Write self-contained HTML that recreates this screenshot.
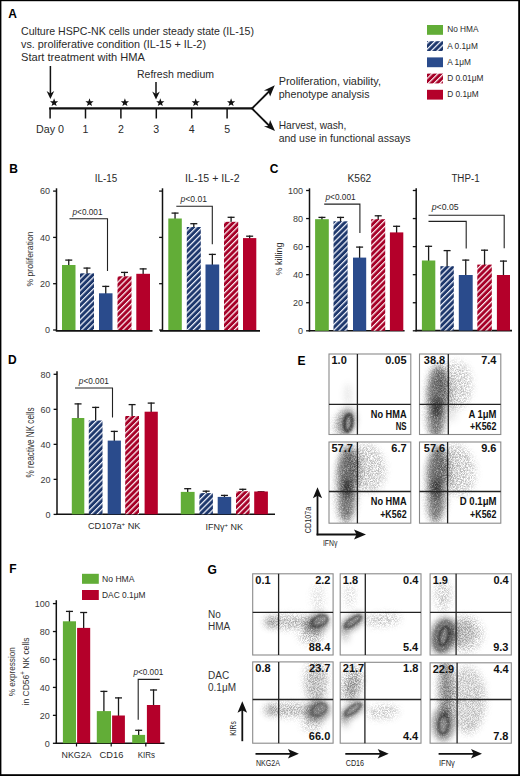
<!DOCTYPE html>
<html><head><meta charset="utf-8"><style>
html,body{margin:0;padding:0;background:#fff;}
svg{display:block;font-family:"Liberation Sans",sans-serif;}
</style></head><body>
<svg width="520" height="776" viewBox="0 0 520 776">
<rect x="0" y="0" width="520" height="776" fill="#fff"/>
<defs>
<pattern id="hb" patternUnits="userSpaceOnUse" width="4.15" height="6" patternTransform="rotate(45)">
<rect width="4.15" height="6" fill="#1d376c"/><rect x="0" y="0" width="1.25" height="6" fill="#eef1fb"/></pattern>
<pattern id="hr" patternUnits="userSpaceOnUse" width="4.15" height="6" patternTransform="rotate(45)">
<rect width="4.15" height="6" fill="#a60027"/><rect x="0" y="0" width="1.25" height="6" fill="#fdeef1"/></pattern>
<marker id="ah" markerWidth="8" markerHeight="8" refX="7" refY="4" orient="auto" markerUnits="userSpaceOnUse"><path d="M0,0 L8,4 L0,8 z" fill="#111"/></marker>
<radialGradient id="ring" cx="0.5" cy="0.5" r="0.5">
<stop offset="0" stop-color="#2a2a2a" stop-opacity="0.3"/>
<stop offset="0.22" stop-color="#2a2a2a" stop-opacity="0.35"/>
<stop offset="0.45" stop-color="#2a2a2a" stop-opacity="1"/>
<stop offset="0.62" stop-color="#2a2a2a" stop-opacity="0.8"/>
<stop offset="0.8" stop-color="#2a2a2a" stop-opacity="0.55"/>
<stop offset="1" stop-color="#2a2a2a" stop-opacity="0.1"/>
</radialGradient>
<filter id="cloud" x="-30%" y="-30%" width="160%" height="160%" color-interpolation-filters="sRGB">
<feGaussianBlur in="SourceGraphic" stdDeviation="3.2" result="b"/>
<feTurbulence type="fractalNoise" baseFrequency="0.85" numOctaves="2" seed="4" result="n"/>
<feColorMatrix in="n" type="matrix" values="0 0 0 0 0  0 0 0 0 0  0 0 0 0 0  1.4 0 0 0 0.3" result="na"/>
<feComposite in="b" in2="na" operator="arithmetic" k1="1.0" k2="0" k3="0" k4="0"/>
</filter>
<filter id="cloud3" x="-30%" y="-30%" width="160%" height="160%" color-interpolation-filters="sRGB">
<feGaussianBlur in="SourceGraphic" stdDeviation="3.5" result="b"/>
<feTurbulence type="fractalNoise" baseFrequency="1.3" numOctaves="2" seed="11" result="n"/>
<feColorMatrix in="n" type="matrix" values="0 0 0 0 0  0 0 0 0 0  0 0 0 0 0  3.2 0 0 0 -1.1" result="na"/>
<feComposite in="b" in2="na" operator="arithmetic" k1="1.6" k2="0" k3="0" k4="0"/>
</filter>
<filter id="cloud2" x="-30%" y="-30%" width="160%" height="160%" color-interpolation-filters="sRGB">
<feGaussianBlur in="SourceGraphic" stdDeviation="1.1" result="b"/>
<feTurbulence type="fractalNoise" baseFrequency="0.85" numOctaves="2" seed="7" result="n"/>
<feColorMatrix in="n" type="matrix" values="0 0 0 0 0  0 0 0 0 0  0 0 0 0 0  1.0 0 0 0 0.5" result="na"/>
<feComposite in="b" in2="na" operator="arithmetic" k1="1.0" k2="0" k3="0" k4="0"/>
</filter>
</defs>
<text x="8.2" y="18" font-size="12" text-anchor="start" font-weight="bold" fill="#000">A</text>
<text x="21" y="34.5" font-size="10.6" text-anchor="start" font-weight="normal" fill="#2a2a2a" textLength="233" lengthAdjust="spacingAndGlyphs">Culture HSPC-NK cells under steady state (IL-15)</text>
<text x="21" y="47.5" font-size="10.6" text-anchor="start" font-weight="normal" fill="#2a2a2a" textLength="185" lengthAdjust="spacingAndGlyphs">vs. proliferative condition (IL-15 + IL-2)</text>
<text x="21" y="60.5" font-size="10.6" text-anchor="start" font-weight="normal" fill="#2a2a2a" textLength="124" lengthAdjust="spacingAndGlyphs">Start treatment with HMA</text>
<text x="137" y="78" font-size="10.6" text-anchor="start" font-weight="normal" fill="#2a2a2a" textLength="77" lengthAdjust="spacingAndGlyphs">Refresh medium</text>
<line x1="49.2" y1="108.4" x2="253" y2="108.4" stroke="#111" stroke-width="2.4"/>
<line x1="50.1" y1="108" x2="50.1" y2="118.5" stroke="#111" stroke-width="1.5"/>
<text x="36" y="132.5" font-size="10.6" text-anchor="start" font-weight="normal" fill="#2a2a2a" textLength="28" lengthAdjust="spacingAndGlyphs">Day 0</text>
<polygon points="54.10,98.30 55.16,101.14 58.19,101.27 55.82,103.16 56.63,106.08 54.10,104.41 51.57,106.08 52.38,103.16 50.01,101.27 53.04,101.14" fill="#111"/>
<line x1="85.5" y1="108" x2="85.5" y2="118.5" stroke="#111" stroke-width="1.5"/>
<text x="85.5" y="132.5" font-size="10.6" text-anchor="middle" font-weight="normal" fill="#2a2a2a">1</text>
<polygon points="89.50,98.30 90.56,101.14 93.59,101.27 91.22,103.16 92.03,106.08 89.50,104.41 86.97,106.08 87.78,103.16 85.41,101.27 88.44,101.14" fill="#111"/>
<line x1="120.9" y1="108" x2="120.9" y2="118.5" stroke="#111" stroke-width="1.5"/>
<text x="120.9" y="132.5" font-size="10.6" text-anchor="middle" font-weight="normal" fill="#2a2a2a">2</text>
<polygon points="124.90,98.30 125.96,101.14 128.99,101.27 126.62,103.16 127.43,106.08 124.90,104.41 122.37,106.08 123.18,103.16 120.81,101.27 123.84,101.14" fill="#111"/>
<line x1="156.29999999999998" y1="108" x2="156.29999999999998" y2="118.5" stroke="#111" stroke-width="1.5"/>
<text x="156.29999999999998" y="132.5" font-size="10.6" text-anchor="middle" font-weight="normal" fill="#2a2a2a">3</text>
<polygon points="160.30,98.30 161.36,101.14 164.39,101.27 162.02,103.16 162.83,106.08 160.30,104.41 157.77,106.08 158.58,103.16 156.21,101.27 159.24,101.14" fill="#111"/>
<line x1="191.70000000000002" y1="108" x2="191.70000000000002" y2="118.5" stroke="#111" stroke-width="1.5"/>
<text x="191.70000000000002" y="132.5" font-size="10.6" text-anchor="middle" font-weight="normal" fill="#2a2a2a">4</text>
<polygon points="195.70,98.30 196.76,101.14 199.79,101.27 197.42,103.16 198.23,106.08 195.70,104.41 193.17,106.08 193.98,103.16 191.61,101.27 194.64,101.14" fill="#111"/>
<line x1="227.1" y1="108" x2="227.1" y2="118.5" stroke="#111" stroke-width="1.5"/>
<text x="227.1" y="132.5" font-size="10.6" text-anchor="middle" font-weight="normal" fill="#2a2a2a">5</text>
<polygon points="231.10,98.30 232.16,101.14 235.19,101.27 232.82,103.16 233.63,106.08 231.10,104.41 228.57,106.08 229.38,103.16 227.01,101.27 230.04,101.14" fill="#111"/>
<line x1="50.4" y1="66" x2="50.4" y2="95" stroke="#111" stroke-width="1.5"/>
<path d="M46.6,91 L50.4,99 L54.199999999999996,91 L50.4,93.5 z" fill="#111"/>
<line x1="156" y1="82" x2="156" y2="95.5" stroke="#111" stroke-width="1.5"/>
<path d="M152.2,91.5 L156,99.5 L159.8,91.5 L156,94.0 z" fill="#111"/>
<path d="M252,108.5 L270,90.5" stroke="#111" stroke-width="1.9" fill="none"/>
<path d="M252,108.5 L270,126.5" stroke="#111" stroke-width="1.9" fill="none"/>
<path d="M274.8,85.3 L263.9,90.4 L268.2,90.8 L270.1,96.6 z" fill="#111"/>
<path d="M275,131 L263.9,126.3 L268.5,125.9 L270.1,120.1 z" fill="#111"/>
<text x="278.7" y="85" font-size="10.6" text-anchor="start" font-weight="normal" fill="#2a2a2a" textLength="102.3" lengthAdjust="spacingAndGlyphs">Proliferation, viability,</text>
<text x="278.7" y="98" font-size="10.6" text-anchor="start" font-weight="normal" fill="#2a2a2a" textLength="90.8" lengthAdjust="spacingAndGlyphs">phenotype analysis</text>
<text x="278.7" y="129.1" font-size="10.6" text-anchor="start" font-weight="normal" fill="#2a2a2a" textLength="67.7" lengthAdjust="spacingAndGlyphs">Harvest, wash,</text>
<text x="278.7" y="142.1" font-size="10.6" text-anchor="start" font-weight="normal" fill="#2a2a2a" textLength="131.8" lengthAdjust="spacingAndGlyphs">and use in functional assays</text>
<rect x="427" y="25.0" width="16" height="9.8" fill="#62ad37"/>
<text x="447.2" y="32.3" font-size="8.3" text-anchor="start" font-weight="normal" fill="#2a2a2a">No HMA</text>
<rect x="427" y="41.2" width="16" height="9.8" fill="url(#hb)"/>
<text x="447.2" y="48.5" font-size="8.3" text-anchor="start" font-weight="normal" fill="#2a2a2a">A 0.1μM</text>
<rect x="427" y="57.4" width="16" height="9.8" fill="#2a4b8c"/>
<text x="447.2" y="64.7" font-size="8.3" text-anchor="start" font-weight="normal" fill="#2a2a2a">A 1μM</text>
<rect x="427" y="73.6" width="16" height="9.8" fill="url(#hr)"/>
<text x="447.2" y="80.89999999999999" font-size="8.3" text-anchor="start" font-weight="normal" fill="#2a2a2a">D 0.01μM</text>
<rect x="427" y="89.8" width="16" height="9.8" fill="#b4002a"/>
<text x="447.2" y="97.1" font-size="8.3" text-anchor="start" font-weight="normal" fill="#2a2a2a">D 0.1μM</text>
<text x="9.3" y="172.5" font-size="12" text-anchor="start" font-weight="bold" fill="#000">B</text>
<text x="106" y="182" font-size="10" text-anchor="middle" font-weight="normal" fill="#2a2a2a" textLength="22.5" lengthAdjust="spacingAndGlyphs">IL-15</text>
<text x="212.3" y="182" font-size="10" text-anchor="middle" font-weight="normal" fill="#2a2a2a" textLength="54.5" lengthAdjust="spacingAndGlyphs">IL-15 + IL-2</text>
<line x1="56.5" y1="188.3" x2="56.5" y2="331" stroke="#111" stroke-width="1.5"/>
<line x1="53.1" y1="330.0" x2="56.5" y2="330.0" stroke="#111" stroke-width="1.3"/>
<text x="50.0" y="333.3" font-size="9" text-anchor="end" font-weight="normal" fill="#3a3a3a">0</text>
<line x1="53.1" y1="283.7" x2="56.5" y2="283.7" stroke="#111" stroke-width="1.3"/>
<text x="50.0" y="287.0" font-size="9" text-anchor="end" font-weight="normal" fill="#3a3a3a">20</text>
<line x1="53.1" y1="237.4" x2="56.5" y2="237.4" stroke="#111" stroke-width="1.3"/>
<text x="50.0" y="240.70000000000002" font-size="9" text-anchor="end" font-weight="normal" fill="#3a3a3a">40</text>
<line x1="53.1" y1="191.1" x2="56.5" y2="191.1" stroke="#111" stroke-width="1.3"/>
<text x="50.0" y="194.4" font-size="9" text-anchor="end" font-weight="normal" fill="#3a3a3a">60</text>
<line x1="55.8" y1="330.8" x2="152.5" y2="330.8" stroke="#111" stroke-width="1.8"/>
<line x1="68.75" y1="259.5" x2="68.75" y2="266" stroke="#1a1a1a" stroke-width="1.3"/>
<line x1="65.25" y1="260.1" x2="72.25" y2="260.1" stroke="#1a1a1a" stroke-width="1.3"/>
<rect x="62" y="265" width="13.5" height="65" fill="#62ad37"/>
<line x1="87.0" y1="267.5" x2="87.0" y2="274.3" stroke="#1a1a1a" stroke-width="1.3"/>
<line x1="83.5" y1="268.1" x2="90.5" y2="268.1" stroke="#1a1a1a" stroke-width="1.3"/>
<rect x="80" y="273.3" width="14" height="56.69999999999999" fill="url(#hb)"/>
<line x1="105.75" y1="285.8" x2="105.75" y2="294.3" stroke="#1a1a1a" stroke-width="1.3"/>
<line x1="102.25" y1="286.40000000000003" x2="109.25" y2="286.40000000000003" stroke="#1a1a1a" stroke-width="1.3"/>
<rect x="99" y="293.3" width="13.5" height="36.69999999999999" fill="#2a4b8c"/>
<line x1="124.5" y1="271.8" x2="124.5" y2="277.3" stroke="#1a1a1a" stroke-width="1.3"/>
<line x1="121.0" y1="272.40000000000003" x2="128.0" y2="272.40000000000003" stroke="#1a1a1a" stroke-width="1.3"/>
<rect x="117.5" y="276.3" width="14.0" height="53.69999999999999" fill="url(#hr)"/>
<line x1="143.15" y1="268.3" x2="143.15" y2="274.8" stroke="#1a1a1a" stroke-width="1.3"/>
<line x1="139.65" y1="268.90000000000003" x2="146.65" y2="268.90000000000003" stroke="#1a1a1a" stroke-width="1.3"/>
<rect x="136.3" y="273.8" width="13.699999999999989" height="56.19999999999999" fill="#b4002a"/>
<path d="M69.5,218.8 H107.5 V271" stroke="#222" stroke-width="1.1" fill="none"/>
<text x="72.5" y="214.5" font-size="8.6" text-anchor="start" font-weight="normal" fill="#2a2a2a" textLength="30" lengthAdjust="spacingAndGlyphs"><tspan font-style="italic">p</tspan>&lt;0.001</text>
<line x1="162.5" y1="188.3" x2="162.5" y2="331" stroke="#111" stroke-width="1.5"/>
<line x1="159.1" y1="330.0" x2="162.5" y2="330.0" stroke="#111" stroke-width="1.3"/>
<line x1="159.1" y1="283.7" x2="162.5" y2="283.7" stroke="#111" stroke-width="1.3"/>
<line x1="159.1" y1="237.4" x2="162.5" y2="237.4" stroke="#111" stroke-width="1.3"/>
<line x1="159.1" y1="191.1" x2="162.5" y2="191.1" stroke="#111" stroke-width="1.3"/>
<line x1="160" y1="330.8" x2="260" y2="330.8" stroke="#111" stroke-width="1.8"/>
<line x1="175.05" y1="212.5" x2="175.05" y2="219.5" stroke="#1a1a1a" stroke-width="1.3"/>
<line x1="171.55" y1="213.1" x2="178.55" y2="213.1" stroke="#1a1a1a" stroke-width="1.3"/>
<rect x="168.3" y="218.5" width="13.5" height="111.5" fill="#62ad37"/>
<line x1="193.8" y1="223.1" x2="193.8" y2="228" stroke="#1a1a1a" stroke-width="1.3"/>
<line x1="190.3" y1="223.7" x2="197.3" y2="223.7" stroke="#1a1a1a" stroke-width="1.3"/>
<rect x="186.8" y="227" width="14.0" height="103" fill="url(#hb)"/>
<line x1="212.35" y1="253.8" x2="212.35" y2="265.5" stroke="#1a1a1a" stroke-width="1.3"/>
<line x1="208.85" y1="254.4" x2="215.85" y2="254.4" stroke="#1a1a1a" stroke-width="1.3"/>
<rect x="205.5" y="264.5" width="13.699999999999989" height="65.5" fill="#2a4b8c"/>
<line x1="231.1" y1="216.7" x2="231.1" y2="222.8" stroke="#1a1a1a" stroke-width="1.3"/>
<line x1="227.6" y1="217.29999999999998" x2="234.6" y2="217.29999999999998" stroke="#1a1a1a" stroke-width="1.3"/>
<rect x="224" y="221.8" width="14.199999999999989" height="108.19999999999999" fill="url(#hr)"/>
<line x1="249.65" y1="235.6" x2="249.65" y2="239.1" stroke="#1a1a1a" stroke-width="1.3"/>
<line x1="246.15" y1="236.2" x2="253.15" y2="236.2" stroke="#1a1a1a" stroke-width="1.3"/>
<rect x="243" y="238.1" width="13.300000000000011" height="91.9" fill="#b4002a"/>
<path d="M176.3,206.2 H212.3 V244.2" stroke="#222" stroke-width="1.1" fill="none"/>
<text x="180.5" y="202" font-size="8.6" text-anchor="start" font-weight="normal" fill="#2a2a2a" textLength="26.5" lengthAdjust="spacingAndGlyphs"><tspan font-style="italic">p</tspan>&lt;0.01</text>
<text transform="translate(33.4,259) rotate(-90)" font-size="9.8" text-anchor="middle" fill="#333" textLength="55" lengthAdjust="spacingAndGlyphs">% proliferation</text>
<text x="269.8" y="172.8" font-size="12" text-anchor="start" font-weight="bold" fill="#000">C</text>
<text x="359.4" y="182" font-size="10" text-anchor="middle" font-weight="normal" fill="#2a2a2a" textLength="23.75" lengthAdjust="spacingAndGlyphs">K562</text>
<text x="465.5" y="181.5" font-size="10" text-anchor="middle" font-weight="normal" fill="#2a2a2a" textLength="28.2" lengthAdjust="spacingAndGlyphs">THP-1</text>
<line x1="309.5" y1="188.3" x2="309.5" y2="331.5" stroke="#111" stroke-width="1.5"/>
<line x1="306.1" y1="330.8" x2="309.5" y2="330.8" stroke="#111" stroke-width="1.3"/>
<text x="303.0" y="334.1" font-size="9" text-anchor="end" font-weight="normal" fill="#3a3a3a">0</text>
<line x1="306.1" y1="302.74" x2="309.5" y2="302.74" stroke="#111" stroke-width="1.3"/>
<text x="303.0" y="306.04" font-size="9" text-anchor="end" font-weight="normal" fill="#3a3a3a">20</text>
<line x1="306.1" y1="274.68" x2="309.5" y2="274.68" stroke="#111" stroke-width="1.3"/>
<text x="303.0" y="277.98" font-size="9" text-anchor="end" font-weight="normal" fill="#3a3a3a">40</text>
<line x1="306.1" y1="246.62" x2="309.5" y2="246.62" stroke="#111" stroke-width="1.3"/>
<text x="303.0" y="249.92000000000002" font-size="9" text-anchor="end" font-weight="normal" fill="#3a3a3a">60</text>
<line x1="306.1" y1="218.56" x2="309.5" y2="218.56" stroke="#111" stroke-width="1.3"/>
<text x="303.0" y="221.86" font-size="9" text-anchor="end" font-weight="normal" fill="#3a3a3a">80</text>
<line x1="306.1" y1="190.5" x2="309.5" y2="190.5" stroke="#111" stroke-width="1.3"/>
<text x="303.0" y="193.8" font-size="9" text-anchor="end" font-weight="normal" fill="#3a3a3a">100</text>
<line x1="308.8" y1="330.8" x2="404.6" y2="330.8" stroke="#111" stroke-width="1.6"/>
<line x1="321.95000000000005" y1="216.8" x2="321.95000000000005" y2="220.2" stroke="#1a1a1a" stroke-width="1.3"/>
<line x1="318.45000000000005" y1="217.4" x2="325.45000000000005" y2="217.4" stroke="#1a1a1a" stroke-width="1.3"/>
<rect x="315.1" y="219.2" width="13.699999999999989" height="111.60000000000002" fill="#62ad37"/>
<line x1="340.55" y1="216.8" x2="340.55" y2="222.3" stroke="#1a1a1a" stroke-width="1.3"/>
<line x1="337.05" y1="217.4" x2="344.05" y2="217.4" stroke="#1a1a1a" stroke-width="1.3"/>
<rect x="333.5" y="221.3" width="14.100000000000023" height="109.5" fill="url(#hb)"/>
<line x1="359.6" y1="246.5" x2="359.6" y2="258.6" stroke="#1a1a1a" stroke-width="1.3"/>
<line x1="356.1" y1="247.1" x2="363.1" y2="247.1" stroke="#1a1a1a" stroke-width="1.3"/>
<rect x="353" y="257.6" width="13.199999999999989" height="73.19999999999999" fill="#2a4b8c"/>
<line x1="378.2" y1="215.2" x2="378.2" y2="220.2" stroke="#1a1a1a" stroke-width="1.3"/>
<line x1="374.7" y1="215.79999999999998" x2="381.7" y2="215.79999999999998" stroke="#1a1a1a" stroke-width="1.3"/>
<rect x="371.2" y="219.2" width="14.0" height="111.60000000000002" fill="url(#hr)"/>
<line x1="396.6" y1="225.7" x2="396.6" y2="233.4" stroke="#1a1a1a" stroke-width="1.3"/>
<line x1="393.1" y1="226.29999999999998" x2="400.1" y2="226.29999999999998" stroke="#1a1a1a" stroke-width="1.3"/>
<rect x="389.9" y="232.4" width="13.400000000000034" height="98.4" fill="#b4002a"/>
<path d="M324.2,204.1 H359.9 V233" stroke="#222" stroke-width="1.1" fill="none"/>
<text x="325.5" y="200" font-size="8.6" text-anchor="start" font-weight="normal" fill="#2a2a2a" textLength="30.2" lengthAdjust="spacingAndGlyphs"><tspan font-style="italic">p</tspan>&lt;0.001</text>
<line x1="416.2" y1="188.3" x2="416.2" y2="331.3" stroke="#111" stroke-width="1.5"/>
<line x1="412.8" y1="330.8" x2="416.2" y2="330.8" stroke="#111" stroke-width="1.3"/>
<line x1="412.8" y1="302.74" x2="416.2" y2="302.74" stroke="#111" stroke-width="1.3"/>
<line x1="412.8" y1="274.68" x2="416.2" y2="274.68" stroke="#111" stroke-width="1.3"/>
<line x1="412.8" y1="246.62" x2="416.2" y2="246.62" stroke="#111" stroke-width="1.3"/>
<line x1="412.8" y1="218.56" x2="416.2" y2="218.56" stroke="#111" stroke-width="1.3"/>
<line x1="412.8" y1="190.5" x2="416.2" y2="190.5" stroke="#111" stroke-width="1.3"/>
<line x1="415.5" y1="330.6" x2="512" y2="330.6" stroke="#111" stroke-width="1.6"/>
<line x1="428.6" y1="245.7" x2="428.6" y2="261.5" stroke="#1a1a1a" stroke-width="1.3"/>
<line x1="425.1" y1="246.29999999999998" x2="432.1" y2="246.29999999999998" stroke="#1a1a1a" stroke-width="1.3"/>
<rect x="421.9" y="260.5" width="13.400000000000034" height="70.10000000000002" fill="#62ad37"/>
<line x1="447.1" y1="250" x2="447.1" y2="267.2" stroke="#1a1a1a" stroke-width="1.3"/>
<line x1="443.6" y1="250.6" x2="450.6" y2="250.6" stroke="#1a1a1a" stroke-width="1.3"/>
<rect x="440.4" y="266.2" width="13.400000000000034" height="64.40000000000003" fill="url(#hb)"/>
<line x1="465.75" y1="259.5" x2="465.75" y2="276" stroke="#1a1a1a" stroke-width="1.3"/>
<line x1="462.25" y1="260.1" x2="469.25" y2="260.1" stroke="#1a1a1a" stroke-width="1.3"/>
<rect x="458.8" y="275" width="13.899999999999977" height="55.60000000000002" fill="#2a4b8c"/>
<line x1="484.55" y1="249.6" x2="484.55" y2="265.6" stroke="#1a1a1a" stroke-width="1.3"/>
<line x1="481.05" y1="250.2" x2="488.05" y2="250.2" stroke="#1a1a1a" stroke-width="1.3"/>
<rect x="477.3" y="264.6" width="14.5" height="66.0" fill="url(#hr)"/>
<line x1="503.45" y1="260.5" x2="503.45" y2="276" stroke="#1a1a1a" stroke-width="1.3"/>
<line x1="499.95" y1="261.1" x2="506.95" y2="261.1" stroke="#1a1a1a" stroke-width="1.3"/>
<rect x="496.9" y="275" width="13.100000000000023" height="55.60000000000002" fill="#b4002a"/>
<path d="M428.5,215.2 H504.2 V248.3" stroke="#222" stroke-width="1.1" fill="none"/>
<path d="M428.5,221.4 H466.2 V248.5" stroke="#222" stroke-width="1.1" fill="none"/>
<text x="431.7" y="209.8" font-size="8.6" text-anchor="start" font-weight="normal" fill="#2a2a2a" textLength="26.9" lengthAdjust="spacingAndGlyphs"><tspan font-style="italic">p</tspan>&lt;0.05</text>
<text transform="translate(281.7,259) rotate(-90)" font-size="9.8" text-anchor="middle" fill="#333" textLength="33" lengthAdjust="spacingAndGlyphs">% killing</text>
<text x="8.1" y="364" font-size="12" text-anchor="start" font-weight="bold" fill="#000">D</text>
<line x1="57" y1="371.2" x2="57" y2="515" stroke="#111" stroke-width="1.5"/>
<line x1="53.6" y1="514.4" x2="57" y2="514.4" stroke="#111" stroke-width="1.3"/>
<text x="50.5" y="517.6999999999999" font-size="9" text-anchor="end" font-weight="normal" fill="#3a3a3a">0</text>
<line x1="53.6" y1="479.375" x2="57" y2="479.375" stroke="#111" stroke-width="1.3"/>
<text x="50.5" y="482.675" font-size="9" text-anchor="end" font-weight="normal" fill="#3a3a3a">20</text>
<line x1="53.6" y1="444.35" x2="57" y2="444.35" stroke="#111" stroke-width="1.3"/>
<text x="50.5" y="447.65000000000003" font-size="9" text-anchor="end" font-weight="normal" fill="#3a3a3a">40</text>
<line x1="53.6" y1="409.325" x2="57" y2="409.325" stroke="#111" stroke-width="1.3"/>
<text x="50.5" y="412.625" font-size="9" text-anchor="end" font-weight="normal" fill="#3a3a3a">60</text>
<line x1="53.6" y1="374.3" x2="57" y2="374.3" stroke="#111" stroke-width="1.3"/>
<text x="50.5" y="377.6" font-size="9" text-anchor="end" font-weight="normal" fill="#3a3a3a">80</text>
<line x1="56.3" y1="514.3" x2="275" y2="514.3" stroke="#111" stroke-width="1.6"/>
<line x1="78.05" y1="403.3" x2="78.05" y2="419" stroke="#1a1a1a" stroke-width="1.3"/>
<line x1="74.55" y1="403.90000000000003" x2="81.55" y2="403.90000000000003" stroke="#1a1a1a" stroke-width="1.3"/>
<rect x="71.8" y="418" width="12.5" height="96.29999999999995" fill="#62ad37"/>
<line x1="95.65" y1="406.8" x2="95.65" y2="421.5" stroke="#1a1a1a" stroke-width="1.3"/>
<line x1="92.15" y1="407.40000000000003" x2="99.15" y2="407.40000000000003" stroke="#1a1a1a" stroke-width="1.3"/>
<rect x="88.8" y="420.5" width="13.700000000000003" height="93.79999999999995" fill="url(#hb)"/>
<line x1="114.30000000000001" y1="430.8" x2="114.30000000000001" y2="441.6" stroke="#1a1a1a" stroke-width="1.3"/>
<line x1="110.80000000000001" y1="431.40000000000003" x2="117.80000000000001" y2="431.40000000000003" stroke="#1a1a1a" stroke-width="1.3"/>
<rect x="107.7" y="440.6" width="13.200000000000003" height="73.69999999999993" fill="#2a4b8c"/>
<line x1="132.1" y1="404" x2="132.1" y2="417" stroke="#1a1a1a" stroke-width="1.3"/>
<line x1="128.6" y1="404.6" x2="135.6" y2="404.6" stroke="#1a1a1a" stroke-width="1.3"/>
<rect x="125.2" y="416" width="13.799999999999997" height="98.29999999999995" fill="url(#hr)"/>
<line x1="151.2" y1="402.5" x2="151.2" y2="412.7" stroke="#1a1a1a" stroke-width="1.3"/>
<line x1="147.7" y1="403.1" x2="154.7" y2="403.1" stroke="#1a1a1a" stroke-width="1.3"/>
<rect x="144.6" y="411.7" width="13.200000000000017" height="102.59999999999997" fill="#b4002a"/>
<line x1="187.7" y1="488.1" x2="187.7" y2="492.9" stroke="#1a1a1a" stroke-width="1.3"/>
<line x1="184.2" y1="488.70000000000005" x2="191.2" y2="488.70000000000005" stroke="#1a1a1a" stroke-width="1.3"/>
<rect x="180.8" y="491.9" width="13.799999999999983" height="22.399999999999977" fill="#62ad37"/>
<line x1="206.15" y1="490.6" x2="206.15" y2="494.1" stroke="#1a1a1a" stroke-width="1.3"/>
<line x1="202.65" y1="491.20000000000005" x2="209.65" y2="491.20000000000005" stroke="#1a1a1a" stroke-width="1.3"/>
<rect x="199.4" y="493.1" width="13.5" height="21.199999999999932" fill="url(#hb)"/>
<line x1="224.45" y1="494.8" x2="224.45" y2="497.9" stroke="#1a1a1a" stroke-width="1.3"/>
<line x1="220.95" y1="495.40000000000003" x2="227.95" y2="495.40000000000003" stroke="#1a1a1a" stroke-width="1.3"/>
<rect x="217.7" y="496.9" width="13.5" height="17.399999999999977" fill="#2a4b8c"/>
<line x1="242.8" y1="488.7" x2="242.8" y2="492.2" stroke="#1a1a1a" stroke-width="1.3"/>
<line x1="239.3" y1="489.3" x2="246.3" y2="489.3" stroke="#1a1a1a" stroke-width="1.3"/>
<rect x="236" y="491.2" width="13.599999999999994" height="23.099999999999966" fill="url(#hr)"/>
<line x1="261.04999999999995" y1="491.2" x2="261.04999999999995" y2="492.5" stroke="#1a1a1a" stroke-width="1.3"/>
<line x1="257.54999999999995" y1="491.8" x2="264.54999999999995" y2="491.8" stroke="#1a1a1a" stroke-width="1.3"/>
<rect x="254.2" y="491.5" width="13.699999999999989" height="22.799999999999955" fill="#b4002a"/>
<path d="M75,388 H112.5 V417.5" stroke="#222" stroke-width="1.1" fill="none"/>
<text x="78.8" y="383.8" font-size="8.6" text-anchor="start" font-weight="normal" fill="#2a2a2a" textLength="30" lengthAdjust="spacingAndGlyphs"><tspan font-style="italic">p</tspan>&lt;0.001</text>
<text x="88" y="529.3" font-size="9" text-anchor="start" font-weight="normal" fill="#2a2a2a" textLength="52.5" lengthAdjust="spacingAndGlyphs">CD107a<tspan font-size="6" dy="-3.5">+</tspan><tspan dy="3.5"> NK</tspan></text>
<text x="205.5" y="530" font-size="9" text-anchor="start" font-weight="normal" fill="#2a2a2a" textLength="37.5" lengthAdjust="spacingAndGlyphs">IFNγ<tspan font-size="6" dy="-3.5">+</tspan><tspan dy="3.5"> NK</tspan></text>
<text transform="translate(33.6,442.4) rotate(-90)" font-size="10" text-anchor="middle" fill="#333" textLength="70" lengthAdjust="spacingAndGlyphs">% reactive NK cells</text>
<text x="9.3" y="573" font-size="12" text-anchor="start" font-weight="bold" fill="#000">F</text>
<rect x="82" y="573.8" width="16.8" height="10" fill="#62ad37"/>
<rect x="82" y="590" width="16.8" height="10" fill="#b4002a"/>
<text x="102" y="581.5" font-size="8.6" text-anchor="start" font-weight="normal" fill="#2a2a2a" textLength="32.5" lengthAdjust="spacingAndGlyphs">No HMA</text>
<text x="102" y="597.8" font-size="8.8" text-anchor="start" font-weight="normal" fill="#2a2a2a" textLength="43.5" lengthAdjust="spacingAndGlyphs">DAC 0.1μM</text>
<line x1="56.3" y1="600.2" x2="56.3" y2="744" stroke="#111" stroke-width="1.5"/>
<line x1="52.9" y1="743.3" x2="56.3" y2="743.3" stroke="#111" stroke-width="1.3"/>
<text x="49.8" y="746.5999999999999" font-size="9" text-anchor="end" font-weight="normal" fill="#3a3a3a">0</text>
<line x1="52.9" y1="715.36" x2="56.3" y2="715.36" stroke="#111" stroke-width="1.3"/>
<text x="49.8" y="718.66" font-size="9" text-anchor="end" font-weight="normal" fill="#3a3a3a">20</text>
<line x1="52.9" y1="687.42" x2="56.3" y2="687.42" stroke="#111" stroke-width="1.3"/>
<text x="49.8" y="690.7199999999999" font-size="9" text-anchor="end" font-weight="normal" fill="#3a3a3a">40</text>
<line x1="52.9" y1="659.48" x2="56.3" y2="659.48" stroke="#111" stroke-width="1.3"/>
<text x="49.8" y="662.78" font-size="9" text-anchor="end" font-weight="normal" fill="#3a3a3a">60</text>
<line x1="52.9" y1="631.54" x2="56.3" y2="631.54" stroke="#111" stroke-width="1.3"/>
<text x="49.8" y="634.8399999999999" font-size="9" text-anchor="end" font-weight="normal" fill="#3a3a3a">80</text>
<line x1="52.9" y1="603.6" x2="56.3" y2="603.6" stroke="#111" stroke-width="1.3"/>
<text x="49.8" y="606.9" font-size="9" text-anchor="end" font-weight="normal" fill="#3a3a3a">100</text>
<line x1="55.6" y1="743.2" x2="164.5" y2="743.2" stroke="#111" stroke-width="1.6"/>
<line x1="76.5" y1="743" x2="76.5" y2="746.5" stroke="#111" stroke-width="1.2"/>
<line x1="111.2" y1="743" x2="111.2" y2="746.5" stroke="#111" stroke-width="1.2"/>
<line x1="145.8" y1="743" x2="145.8" y2="746.5" stroke="#111" stroke-width="1.2"/>
<line x1="69.45" y1="610.8" x2="69.45" y2="622.3" stroke="#1a1a1a" stroke-width="1.3"/>
<line x1="65.95" y1="611.4" x2="72.95" y2="611.4" stroke="#1a1a1a" stroke-width="1.3"/>
<rect x="62.9" y="621.3" width="13.100000000000001" height="121.90000000000009" fill="#62ad37"/>
<line x1="83.65" y1="611.9" x2="83.65" y2="628.9" stroke="#1a1a1a" stroke-width="1.3"/>
<line x1="80.15" y1="612.5" x2="87.15" y2="612.5" stroke="#1a1a1a" stroke-width="1.3"/>
<rect x="77.1" y="627.9" width="13.100000000000009" height="115.30000000000007" fill="#b4002a"/>
<line x1="103.9" y1="690.8" x2="103.9" y2="712.1" stroke="#1a1a1a" stroke-width="1.3"/>
<line x1="100.4" y1="691.4" x2="107.4" y2="691.4" stroke="#1a1a1a" stroke-width="1.3"/>
<rect x="96.8" y="711.1" width="14.200000000000003" height="32.10000000000002" fill="#62ad37"/>
<line x1="118.5" y1="697.3" x2="118.5" y2="716.5" stroke="#1a1a1a" stroke-width="1.3"/>
<line x1="115.0" y1="697.9" x2="122.0" y2="697.9" stroke="#1a1a1a" stroke-width="1.3"/>
<rect x="112.1" y="715.5" width="12.800000000000011" height="27.700000000000045" fill="#b4002a"/>
<line x1="138.64999999999998" y1="729.7" x2="138.64999999999998" y2="735.9" stroke="#1a1a1a" stroke-width="1.3"/>
<line x1="135.14999999999998" y1="730.3000000000001" x2="142.14999999999998" y2="730.3000000000001" stroke="#1a1a1a" stroke-width="1.3"/>
<rect x="132.2" y="734.9" width="12.900000000000006" height="8.300000000000068" fill="#62ad37"/>
<line x1="153.55" y1="689.4" x2="153.55" y2="706" stroke="#1a1a1a" stroke-width="1.3"/>
<line x1="150.05" y1="690.0" x2="157.05" y2="690.0" stroke="#1a1a1a" stroke-width="1.3"/>
<rect x="146.9" y="705" width="13.299999999999983" height="38.200000000000045" fill="#b4002a"/>
<path d="M138.2,719.7 V679.4 H159.7" stroke="#222" stroke-width="1.1" fill="none"/>
<text x="133.4" y="674.7" font-size="8.6" text-anchor="start" font-weight="normal" fill="#2a2a2a" textLength="29.9" lengthAdjust="spacingAndGlyphs"><tspan font-style="italic">p</tspan>&lt;0.001</text>
<text x="61.5" y="758.1" font-size="9" text-anchor="start" font-weight="normal" fill="#2a2a2a" textLength="30" lengthAdjust="spacingAndGlyphs">NKG2A</text>
<text x="99.6" y="758.1" font-size="9" text-anchor="start" font-weight="normal" fill="#2a2a2a" textLength="23.8" lengthAdjust="spacingAndGlyphs">CD16</text>
<text x="137.7" y="758.1" font-size="9" text-anchor="start" font-weight="normal" fill="#2a2a2a" textLength="17.3" lengthAdjust="spacingAndGlyphs">KIRs</text>
<text transform="translate(14.9,671.7) rotate(-90)" font-size="9.6" text-anchor="middle" fill="#333" textLength="49" lengthAdjust="spacingAndGlyphs">% expression</text>
<text transform="translate(28.6,671.5) rotate(-90)" font-size="9.6" text-anchor="middle" fill="#333" textLength="68" lengthAdjust="spacingAndGlyphs">in CD56<tspan font-size="7" dy="-3.5">+</tspan><tspan dy="3.5"> NK cells</tspan></text>
<text x="297.6" y="364.5" font-size="12" text-anchor="start" font-weight="bold" fill="#000">E</text>
<clipPath id="cp1"><rect x="329" y="354" width="81.80000000000001" height="80.5"/></clipPath>
<g clip-path="url(#cp1)">
<g filter="url(#cloud)">
<ellipse cx="346.5" cy="422" rx="9" ry="14" transform="rotate(12 346.5 422)" fill="#2a2a2a" fill-opacity="0.408"/>
<ellipse cx="348" cy="395" rx="4" ry="12" transform="rotate(0 348 395)" fill="#2a2a2a" fill-opacity="0.082"/>
</g>
<g filter="url(#cloud3)">
<ellipse cx="343" cy="424" rx="10" ry="13" transform="rotate(20 343 424)" fill="#2a2a2a" fill-opacity="0.109"/>
</g>
<g filter="url(#cloud2)">
<ellipse cx="348.2" cy="423" rx="3.8" ry="8.5" transform="rotate(6 348.2 423)" fill="none" stroke="#2a2a2a" stroke-width="3.0" stroke-opacity="0.612"/>
</g>
</g>
<clipPath id="cp2"><rect x="419.5" y="354" width="81.30000000000001" height="80.5"/></clipPath>
<g clip-path="url(#cp2)">
<g filter="url(#cloud)">
<ellipse cx="437.5" cy="392" rx="9.5" ry="26" transform="rotate(3 437.5 392)" fill="#2a2a2a" fill-opacity="0.510"/>
<ellipse cx="436.5" cy="418" rx="8" ry="20" transform="rotate(3 436.5 418)" fill="#2a2a2a" fill-opacity="0.476"/>
<ellipse cx="451" cy="392" rx="5" ry="18" transform="rotate(0 451 392)" fill="#2a2a2a" fill-opacity="0.095"/>
<ellipse cx="452" cy="414" rx="6" ry="8" transform="rotate(0 452 414)" fill="#2a2a2a" fill-opacity="0.068"/>
</g>
<g filter="url(#cloud3)">
<ellipse cx="437" cy="400" rx="12" ry="40" transform="rotate(3 437 400)" fill="#2a2a2a" fill-opacity="0.136"/>
<ellipse cx="456" cy="385" rx="16" ry="24" transform="rotate(0 456 385)" fill="#2a2a2a" fill-opacity="0.150"/>
</g>
<g filter="url(#cloud2)">
</g>
</g>
<clipPath id="cp3"><rect x="329" y="442" width="81.80000000000001" height="81.20000000000005"/></clipPath>
<g clip-path="url(#cp3)">
<g filter="url(#cloud)">
<ellipse cx="347.5" cy="472" rx="9.5" ry="26" transform="rotate(3 347.5 472)" fill="#2a2a2a" fill-opacity="0.510"/>
<ellipse cx="347" cy="500" rx="8" ry="22" transform="rotate(3 347 500)" fill="#2a2a2a" fill-opacity="0.476"/>
<ellipse cx="360" cy="470" rx="5" ry="20" transform="rotate(0 360 470)" fill="#2a2a2a" fill-opacity="0.095"/>
</g>
<g filter="url(#cloud3)">
<ellipse cx="347" cy="485" rx="12" ry="40" transform="rotate(3 347 485)" fill="#2a2a2a" fill-opacity="0.136"/>
<ellipse cx="368" cy="468" rx="17" ry="24" transform="rotate(-10 368 468)" fill="#2a2a2a" fill-opacity="0.163"/>
</g>
<g filter="url(#cloud2)">
</g>
</g>
<clipPath id="cp4"><rect x="419.5" y="442" width="81.30000000000001" height="81.20000000000005"/></clipPath>
<g clip-path="url(#cp4)">
<g filter="url(#cloud)">
<ellipse cx="437" cy="472" rx="9.5" ry="26" transform="rotate(3 437 472)" fill="#2a2a2a" fill-opacity="0.510"/>
<ellipse cx="436.5" cy="500" rx="8" ry="22" transform="rotate(3 436.5 500)" fill="#2a2a2a" fill-opacity="0.476"/>
<ellipse cx="450" cy="470" rx="5" ry="20" transform="rotate(0 450 470)" fill="#2a2a2a" fill-opacity="0.095"/>
</g>
<g filter="url(#cloud3)">
<ellipse cx="437" cy="485" rx="12" ry="40" transform="rotate(3 437 485)" fill="#2a2a2a" fill-opacity="0.136"/>
<ellipse cx="458" cy="470" rx="17" ry="26" transform="rotate(-10 458 470)" fill="#2a2a2a" fill-opacity="0.163"/>
</g>
<g filter="url(#cloud2)">
</g>
</g>
<rect x="329" y="354" width="81.80000000000001" height="80.5" fill="none" stroke="#8a8a8a" stroke-width="1.1"/>
<line x1="357.4" y1="354" x2="357.4" y2="434.5" stroke="#222" stroke-width="1.3"/>
<line x1="329" y1="404.3" x2="410.8" y2="404.3" stroke="#222" stroke-width="1.3"/>
<rect x="419.5" y="354" width="81.30000000000001" height="80.5" fill="none" stroke="#8a8a8a" stroke-width="1.1"/>
<line x1="448.3" y1="354" x2="448.3" y2="434.5" stroke="#222" stroke-width="1.3"/>
<line x1="419.5" y1="404.3" x2="500.8" y2="404.3" stroke="#222" stroke-width="1.3"/>
<rect x="329" y="442" width="81.80000000000001" height="81.20000000000005" fill="none" stroke="#8a8a8a" stroke-width="1.1"/>
<line x1="357.4" y1="442" x2="357.4" y2="523.2" stroke="#222" stroke-width="1.3"/>
<line x1="329" y1="491.5" x2="410.8" y2="491.5" stroke="#222" stroke-width="1.3"/>
<rect x="419.5" y="442" width="81.30000000000001" height="81.20000000000005" fill="none" stroke="#8a8a8a" stroke-width="1.1"/>
<line x1="447.6" y1="442" x2="447.6" y2="523.2" stroke="#222" stroke-width="1.3"/>
<line x1="419.5" y1="491.5" x2="500.8" y2="491.5" stroke="#222" stroke-width="1.3"/>
<text x="331.5" y="363.6" font-size="10.2" text-anchor="start" font-weight="bold" fill="#111" textLength="15.29" lengthAdjust="spacingAndGlyphs">1.0</text>
<text x="406.6" y="363.6" font-size="10.2" text-anchor="end" font-weight="bold" fill="#111" textLength="21.41" lengthAdjust="spacingAndGlyphs">0.05</text>
<text x="406.6" y="417.7" font-size="10.2" text-anchor="end" font-weight="bold" fill="#111" textLength="35.8" lengthAdjust="spacingAndGlyphs">No HMA</text>
<text x="406.6" y="430.4" font-size="10.2" text-anchor="end" font-weight="bold" fill="#111" textLength="10.9" lengthAdjust="spacingAndGlyphs">NS</text>
<text x="423.8" y="363.6" font-size="10.2" text-anchor="start" font-weight="bold" fill="#111" textLength="21.41" lengthAdjust="spacingAndGlyphs">38.8</text>
<text x="496.5" y="363.6" font-size="10.2" text-anchor="end" font-weight="bold" fill="#111" textLength="15.29" lengthAdjust="spacingAndGlyphs">7.4</text>
<text x="496.5" y="417.7" font-size="10.2" text-anchor="end" font-weight="bold" fill="#111" textLength="28" lengthAdjust="spacingAndGlyphs">A 1μM</text>
<text x="496.5" y="430.4" font-size="10.2" text-anchor="end" font-weight="bold" fill="#111" textLength="26.4" lengthAdjust="spacingAndGlyphs">+K562</text>
<text x="331.5" y="452.3" font-size="10.2" text-anchor="start" font-weight="bold" fill="#111" textLength="21.41" lengthAdjust="spacingAndGlyphs">57.7</text>
<text x="406.6" y="452.3" font-size="10.2" text-anchor="end" font-weight="bold" fill="#111" textLength="15.29" lengthAdjust="spacingAndGlyphs">6.7</text>
<text x="406.6" y="505.4" font-size="10.2" text-anchor="end" font-weight="bold" fill="#111" textLength="35.8" lengthAdjust="spacingAndGlyphs">No HMA</text>
<text x="406.6" y="518" font-size="10.2" text-anchor="end" font-weight="bold" fill="#111" textLength="26.4" lengthAdjust="spacingAndGlyphs">+K562</text>
<text x="423.8" y="452.3" font-size="10.2" text-anchor="start" font-weight="bold" fill="#111" textLength="21.41" lengthAdjust="spacingAndGlyphs">57.6</text>
<text x="496.5" y="452.3" font-size="10.2" text-anchor="end" font-weight="bold" fill="#111" textLength="15.29" lengthAdjust="spacingAndGlyphs">9.6</text>
<text x="496.5" y="505.4" font-size="10.2" text-anchor="end" font-weight="bold" fill="#111" textLength="36.7" lengthAdjust="spacingAndGlyphs">D 0.1μM</text>
<text x="496.5" y="518" font-size="10.2" text-anchor="end" font-weight="bold" fill="#111" textLength="26.4" lengthAdjust="spacingAndGlyphs">+K562</text>
<path d="M317.5,535.3 L317.50,495.20" stroke="#111" stroke-width="1.8" fill="none"/>
<path d="M317.5,487.2 L322.10,498.20 L317.50,495.70 L312.90,498.20 z" fill="#111"/>
<path d="M316.6,534.5 L357.00,534.50" stroke="#111" stroke-width="1.8" fill="none"/>
<path d="M366,534.5 L354.00,539.40 L356.50,534.50 L354.00,529.60 z" fill="#111"/>
<text transform="translate(311.2,520) rotate(-90)" font-size="8.6" text-anchor="middle" fill="#222" textLength="26.3" lengthAdjust="spacingAndGlyphs">CD107a</text>
<text x="322.9" y="546" font-size="8.6" text-anchor="start" font-weight="normal" fill="#222" textLength="14.5" lengthAdjust="spacingAndGlyphs">IFNγ</text>
<text x="207.6" y="573.7" font-size="12" text-anchor="start" font-weight="bold" fill="#000">G</text>
<text x="208" y="617.9" font-size="10" text-anchor="start" font-weight="normal" fill="#333">No</text>
<text x="208" y="629.5" font-size="10" text-anchor="start" font-weight="normal" fill="#333">HMA</text>
<text x="208" y="679.2" font-size="10" text-anchor="start" font-weight="normal" fill="#333">DAC</text>
<text x="208" y="690.8" font-size="10" text-anchor="start" font-weight="normal" fill="#333">0.1μM</text>
<clipPath id="cp5"><rect x="252.7" y="573.8" width="80.40000000000003" height="81.20000000000005"/></clipPath>
<g clip-path="url(#cp5)">
<g filter="url(#cloud)">
<ellipse cx="317" cy="623.5" rx="13" ry="9.5" transform="rotate(-30 317 623.5)" fill="#2a2a2a" fill-opacity="0.462"/>
<ellipse cx="320" cy="620.5" rx="5" ry="2.2" transform="rotate(-25 320 620.5)" fill="#2a2a2a" fill-opacity="0.204"/>
<ellipse cx="291" cy="622" rx="24" ry="4" transform="rotate(0 291 622)" fill="#2a2a2a" fill-opacity="0.095"/>
<ellipse cx="271" cy="622" rx="6" ry="6" transform="rotate(0 271 622)" fill="#2a2a2a" fill-opacity="0.204"/>
</g>
<g filter="url(#cloud3)">
<ellipse cx="290" cy="622" rx="26" ry="7" transform="rotate(0 290 622)" fill="#2a2a2a" fill-opacity="0.190"/>
<ellipse cx="318" cy="598" rx="6" ry="14" transform="rotate(0 318 598)" fill="#2a2a2a" fill-opacity="0.095"/>
<ellipse cx="311" cy="636" rx="12" ry="8" transform="rotate(0 311 636)" fill="#2a2a2a" fill-opacity="0.190"/>
</g>
<g filter="url(#cloud2)">
<ellipse cx="319.5" cy="621" rx="8.5" ry="5" transform="rotate(-25 319.5 621)" fill="none" stroke="#2a2a2a" stroke-width="2.4" stroke-opacity="0.510"/>
</g>
</g>
<clipPath id="cp6"><rect x="252.7" y="661.9" width="80.40000000000003" height="81.30000000000007"/></clipPath>
<g clip-path="url(#cp6)">
<g filter="url(#cloud)">
<ellipse cx="317.5" cy="711" rx="13" ry="10.5" transform="rotate(-25 317.5 711)" fill="#2a2a2a" fill-opacity="0.449"/>
<ellipse cx="319.5" cy="709.5" rx="5" ry="3" transform="rotate(-30 319.5 709.5)" fill="#2a2a2a" fill-opacity="0.204"/>
<ellipse cx="316" cy="686" rx="10" ry="20" transform="rotate(0 316 686)" fill="#2a2a2a" fill-opacity="0.109"/>
<ellipse cx="291" cy="710" rx="24" ry="4" transform="rotate(0 291 710)" fill="#2a2a2a" fill-opacity="0.082"/>
<ellipse cx="271" cy="710" rx="6" ry="6" transform="rotate(0 271 710)" fill="#2a2a2a" fill-opacity="0.204"/>
</g>
<g filter="url(#cloud3)">
<ellipse cx="316" cy="680" rx="12" ry="22" transform="rotate(0 316 680)" fill="#2a2a2a" fill-opacity="0.163"/>
<ellipse cx="290" cy="710" rx="26" ry="7" transform="rotate(0 290 710)" fill="#2a2a2a" fill-opacity="0.190"/>
<ellipse cx="312" cy="724" rx="10" ry="7" transform="rotate(0 312 724)" fill="#2a2a2a" fill-opacity="0.170"/>
</g>
<g filter="url(#cloud2)">
<ellipse cx="319" cy="709.5" rx="8" ry="5.5" transform="rotate(-30 319 709.5)" fill="none" stroke="#2a2a2a" stroke-width="2.4" stroke-opacity="0.374"/>
</g>
</g>
<clipPath id="cp7"><rect x="340.2" y="573.8" width="80.80000000000001" height="81.20000000000005"/></clipPath>
<g clip-path="url(#cp7)">
<g filter="url(#cloud)">
<ellipse cx="352" cy="622.5" rx="14" ry="6.5" transform="rotate(-34 352 622.5)" fill="#2a2a2a" fill-opacity="0.476"/>
<ellipse cx="345" cy="636" rx="4" ry="6" transform="rotate(-20 345 636)" fill="#2a2a2a" fill-opacity="0.204"/>
</g>
<g filter="url(#cloud3)">
<ellipse cx="383" cy="620" rx="18" ry="6" transform="rotate(-5 383 620)" fill="#2a2a2a" fill-opacity="0.170"/>
<ellipse cx="350" cy="595" rx="5" ry="14" transform="rotate(0 350 595)" fill="#2a2a2a" fill-opacity="0.102"/>
</g>
<g filter="url(#cloud2)">
<ellipse cx="353" cy="621.5" rx="9.5" ry="3.2" transform="rotate(-34 353 621.5)" fill="none" stroke="#2a2a2a" stroke-width="2.2" stroke-opacity="0.510"/>
</g>
</g>
<clipPath id="cp8"><rect x="340.2" y="662.3" width="80.80000000000001" height="80.90000000000009"/></clipPath>
<g clip-path="url(#cp8)">
<g filter="url(#cloud)">
<ellipse cx="352" cy="710.5" rx="14" ry="6.5" transform="rotate(-35 352 710.5)" fill="#2a2a2a" fill-opacity="0.442"/>
<ellipse cx="345" cy="722" rx="4" ry="6" transform="rotate(-20 345 722)" fill="#2a2a2a" fill-opacity="0.204"/>
<ellipse cx="353" cy="688" rx="7" ry="13" transform="rotate(15 353 688)" fill="#2a2a2a" fill-opacity="0.190"/>
</g>
<g filter="url(#cloud3)">
<ellipse cx="352" cy="683" rx="10" ry="18" transform="rotate(15 352 683)" fill="#2a2a2a" fill-opacity="0.218"/>
<ellipse cx="383" cy="712" rx="16" ry="7" transform="rotate(-5 383 712)" fill="#2a2a2a" fill-opacity="0.150"/>
</g>
<g filter="url(#cloud2)">
<ellipse cx="353" cy="709.5" rx="9.5" ry="3.2" transform="rotate(-35 353 709.5)" fill="none" stroke="#2a2a2a" stroke-width="2.2" stroke-opacity="0.476"/>
</g>
</g>
<clipPath id="cp9"><rect x="430.1" y="573.8" width="81.19999999999999" height="81.20000000000005"/></clipPath>
<g clip-path="url(#cp9)">
<g filter="url(#cloud)">
<ellipse cx="443.5" cy="636" rx="13" ry="19" transform="rotate(12 443.5 636)" fill="#2a2a2a" fill-opacity="0.510"/>
<ellipse cx="463" cy="633" rx="11" ry="14" transform="rotate(0 463 633)" fill="#2a2a2a" fill-opacity="0.136"/>
</g>
<g filter="url(#cloud3)">
<ellipse cx="466" cy="634" rx="17" ry="18" transform="rotate(0 466 634)" fill="#2a2a2a" fill-opacity="0.163"/>
<ellipse cx="443" cy="595" rx="8" ry="16" transform="rotate(0 443 595)" fill="#2a2a2a" fill-opacity="0.150"/>
</g>
<g filter="url(#cloud2)">
<ellipse cx="444" cy="636" rx="4.6" ry="9.5" transform="rotate(15 444 636)" fill="none" stroke="#2a2a2a" stroke-width="2.6" stroke-opacity="0.578"/>
<ellipse cx="443.5" cy="636" rx="8.5" ry="15" transform="rotate(15 443.5 636)" fill="none" stroke="#2a2a2a" stroke-width="2.5" stroke-opacity="0.238"/>
</g>
</g>
<clipPath id="cp10"><rect x="430.1" y="662.8" width="81.19999999999999" height="80.40000000000009"/></clipPath>
<g clip-path="url(#cp10)">
<g filter="url(#cloud)">
<ellipse cx="446" cy="688" rx="6" ry="28" transform="rotate(0 446 688)" fill="#2a2a2a" fill-opacity="0.374"/>
<ellipse cx="443.5" cy="724" rx="11" ry="17" transform="rotate(0 443.5 724)" fill="#2a2a2a" fill-opacity="0.476"/>
<ellipse cx="468" cy="700" rx="16" ry="32" transform="rotate(0 468 700)" fill="#2a2a2a" fill-opacity="0.054"/>
</g>
<g filter="url(#cloud3)">
<ellipse cx="446" cy="690" rx="9" ry="32" transform="rotate(0 446 690)" fill="#2a2a2a" fill-opacity="0.170"/>
<ellipse cx="468" cy="700" rx="18" ry="34" transform="rotate(0 468 700)" fill="#2a2a2a" fill-opacity="0.136"/>
</g>
<g filter="url(#cloud2)">
<ellipse cx="443.5" cy="724.5" rx="5" ry="9.5" transform="rotate(5 443.5 724.5)" fill="none" stroke="#2a2a2a" stroke-width="2.5" stroke-opacity="0.476"/>
</g>
</g>
<rect x="252.7" y="573.8" width="80.40000000000003" height="81.20000000000005" fill="none" stroke="#8a8a8a" stroke-width="1.1"/>
<line x1="278.6" y1="573.8" x2="278.6" y2="655" stroke="#222" stroke-width="1.3"/>
<line x1="252.7" y1="612.3" x2="333.1" y2="612.3" stroke="#222" stroke-width="1.3"/>
<rect x="252.7" y="661.9" width="80.40000000000003" height="81.30000000000007" fill="none" stroke="#8a8a8a" stroke-width="1.1"/>
<line x1="278.7" y1="661.9" x2="278.7" y2="743.2" stroke="#222" stroke-width="1.3"/>
<line x1="252.7" y1="699.5" x2="333.1" y2="699.5" stroke="#222" stroke-width="1.3"/>
<rect x="340.2" y="573.8" width="80.80000000000001" height="81.20000000000005" fill="none" stroke="#8a8a8a" stroke-width="1.1"/>
<line x1="365.3" y1="573.8" x2="365.3" y2="655" stroke="#222" stroke-width="1.3"/>
<line x1="340.2" y1="612.3" x2="421" y2="612.3" stroke="#222" stroke-width="1.3"/>
<rect x="340.2" y="662.3" width="80.80000000000001" height="80.90000000000009" fill="none" stroke="#8a8a8a" stroke-width="1.1"/>
<line x1="364.9" y1="662.3" x2="364.9" y2="743.2" stroke="#222" stroke-width="1.3"/>
<line x1="340.2" y1="699.5" x2="421" y2="699.5" stroke="#222" stroke-width="1.3"/>
<rect x="430.1" y="573.8" width="81.19999999999999" height="81.20000000000005" fill="none" stroke="#8a8a8a" stroke-width="1.1"/>
<line x1="456.1" y1="573.8" x2="456.1" y2="655" stroke="#222" stroke-width="1.3"/>
<line x1="430.1" y1="612.3" x2="511.3" y2="612.3" stroke="#222" stroke-width="1.3"/>
<rect x="430.1" y="662.8" width="81.19999999999999" height="80.40000000000009" fill="none" stroke="#8a8a8a" stroke-width="1.1"/>
<line x1="457.1" y1="662.8" x2="457.1" y2="743.2" stroke="#222" stroke-width="1.3"/>
<line x1="430.1" y1="699.5" x2="511.3" y2="699.5" stroke="#222" stroke-width="1.3"/>
<text x="255.29999999999998" y="583.8" font-size="10.2" text-anchor="start" font-weight="bold" fill="#111" textLength="15.29" lengthAdjust="spacingAndGlyphs">0.1</text>
<text x="330.5" y="583.8" font-size="10.2" text-anchor="end" font-weight="bold" fill="#111" textLength="15.29" lengthAdjust="spacingAndGlyphs">2.2</text>
<text x="330.3" y="651.4" font-size="10.2" text-anchor="end" font-weight="bold" fill="#111" textLength="21.41" lengthAdjust="spacingAndGlyphs">88.4</text>
<text x="255.29999999999998" y="671.9" font-size="10.2" text-anchor="start" font-weight="bold" fill="#111" textLength="15.29" lengthAdjust="spacingAndGlyphs">0.8</text>
<text x="330.5" y="671.9" font-size="10.2" text-anchor="end" font-weight="bold" fill="#111" textLength="21.41" lengthAdjust="spacingAndGlyphs">23.7</text>
<text x="330.3" y="739.6" font-size="10.2" text-anchor="end" font-weight="bold" fill="#111" textLength="21.41" lengthAdjust="spacingAndGlyphs">66.0</text>
<text x="342.8" y="583.8" font-size="10.2" text-anchor="start" font-weight="bold" fill="#111" textLength="15.29" lengthAdjust="spacingAndGlyphs">1.8</text>
<text x="418.4" y="583.8" font-size="10.2" text-anchor="end" font-weight="bold" fill="#111" textLength="15.29" lengthAdjust="spacingAndGlyphs">0.4</text>
<text x="418.2" y="651.4" font-size="10.2" text-anchor="end" font-weight="bold" fill="#111" textLength="15.29" lengthAdjust="spacingAndGlyphs">5.4</text>
<text x="342.8" y="672.3" font-size="10.2" text-anchor="start" font-weight="bold" fill="#111" textLength="21.41" lengthAdjust="spacingAndGlyphs">21.7</text>
<text x="418.4" y="672.3" font-size="10.2" text-anchor="end" font-weight="bold" fill="#111" textLength="15.29" lengthAdjust="spacingAndGlyphs">1.8</text>
<text x="418.2" y="739.6" font-size="10.2" text-anchor="end" font-weight="bold" fill="#111" textLength="15.29" lengthAdjust="spacingAndGlyphs">4.4</text>
<text x="432.70000000000005" y="583.8" font-size="10.2" text-anchor="start" font-weight="bold" fill="#111" textLength="15.29" lengthAdjust="spacingAndGlyphs">1.9</text>
<text x="508.7" y="583.8" font-size="10.2" text-anchor="end" font-weight="bold" fill="#111" textLength="15.29" lengthAdjust="spacingAndGlyphs">0.4</text>
<text x="508.5" y="651.4" font-size="10.2" text-anchor="end" font-weight="bold" fill="#111" textLength="15.29" lengthAdjust="spacingAndGlyphs">9.3</text>
<text x="432.70000000000005" y="672.8" font-size="10.2" text-anchor="start" font-weight="bold" fill="#111" textLength="21.41" lengthAdjust="spacingAndGlyphs">22.9</text>
<text x="508.7" y="672.8" font-size="10.2" text-anchor="end" font-weight="bold" fill="#111" textLength="15.29" lengthAdjust="spacingAndGlyphs">4.4</text>
<text x="508.5" y="739.6" font-size="10.2" text-anchor="end" font-weight="bold" fill="#111" textLength="15.29" lengthAdjust="spacingAndGlyphs">7.8</text>
<path d="M242.3,741.2 L242.30,709.70" stroke="#111" stroke-width="1.8" fill="none"/>
<path d="M242.3,701.2 L247.10,712.70 L242.30,710.20 L237.50,712.70 z" fill="#111"/>
<text transform="translate(235.6,728.5) rotate(-90)" font-size="8.6" text-anchor="middle" fill="#222" textLength="14.6" lengthAdjust="spacingAndGlyphs">KIRs</text>
<path d="M255.5,753.8 L290.90,753.80" stroke="#111" stroke-width="1.8" fill="none"/>
<path d="M298.9,753.8 L287.90,758.60 L290.40,753.80 L287.90,749.00 z" fill="#111"/>
<text x="255.9" y="765.5" font-size="8.6" text-anchor="start" font-weight="normal" fill="#222" textLength="24" lengthAdjust="spacingAndGlyphs">NKG2A</text>
<path d="M345.3,753.8 L380.70,753.80" stroke="#111" stroke-width="1.8" fill="none"/>
<path d="M388.7,753.8 L377.70,758.60 L380.20,753.80 L377.70,749.00 z" fill="#111"/>
<text x="345.7" y="765.5" font-size="8.6" text-anchor="start" font-weight="normal" fill="#222" textLength="18.4" lengthAdjust="spacingAndGlyphs">CD16</text>
<path d="M438.6,753.8 L474.00,753.80" stroke="#111" stroke-width="1.8" fill="none"/>
<path d="M482.0,753.8 L471.00,758.60 L473.50,753.80 L471.00,749.00 z" fill="#111"/>
<text x="439.0" y="765.5" font-size="8.6" text-anchor="start" font-weight="normal" fill="#222" textLength="15.8" lengthAdjust="spacingAndGlyphs">IFNγ</text>
<rect x="0" y="0" width="520" height="1.2" fill="#000"/><rect x="0" y="0" width="1.4" height="776" fill="#000"/>
<rect x="518.2" y="0" width="1.8" height="776" fill="#000"/><rect x="0" y="774.2" width="520" height="1.8" fill="#000"/>
</svg></body></html>
